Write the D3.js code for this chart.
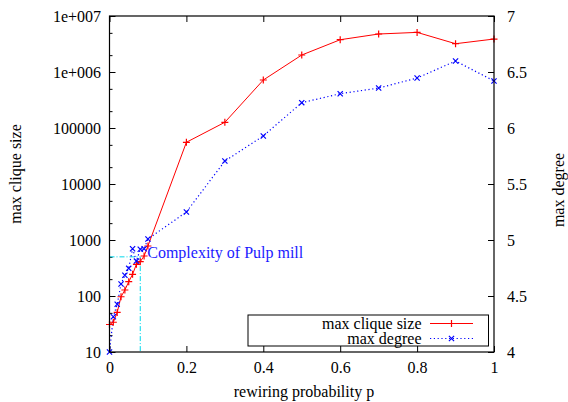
<!DOCTYPE html>
<html>
<head>
<meta charset="utf-8">
<script src="https://cdn.jsdelivr.net/npm/d3@7"></script>
<style>
  body { margin: 0; background: #fff; }
  svg { display: block; }
  svg text { font-family: "Liberation Serif", "DejaVu Serif", serif; }
</style>
</head>
<body>
<div id="main"></div>
<script>
// rewiring probability p
const pValues = [0, 0.01, 0.02, 0.03, 0.04, 0.05, 0.06, 0.07, 0.08, 0.09, 0.1,
                 0.2, 0.3, 0.4, 0.5, 0.6, 0.7, 0.8, 0.9, 1.0];
// max clique size (left, log axis)
const cliqueSize = [31, 34, 51, 97, 128, 180, 244, 368, 410, 518, 781,
                    55600, 126500, 719000, 2010000, 3770000, 4770000, 5100000, 3200000, 3880000];
// max degree (right axis)
const maxDegree = [4.0, 4.315, 4.426, 4.607, 4.685, 4.747, 4.922, 4.812, 4.917, 4.922, 5.009,
                   5.25, 5.705, 5.929, 6.226, 6.306, 6.357, 6.446, 6.598, 6.42];

const xTicks = [0, 0.2, 0.4, 0.6, 0.8, 1];
const leftTicks = [10, 100, 1000, 10000, 100000, 1e6, 1e7];
const leftTickLabels = ["10", "100", "1000", "10000", "100000", "1e+006", "1e+007"];
const rightTicks = [4, 4.5, 5, 5.5, 6, 6.5, 7];
const rightTickLabels = ["4", "4.5", "5", "5.5", "6", "6.5", "7"];
const pulpMill = [0.08, 500]; // p, clique size
const pulpLabel = "Complexity of Pulp mill";
const seriesNames = ["max clique size", "max degree"];

const width = 568, height = 402;
const plotLeft = 109.5, plotRight = 494, plotTop = 16, plotBottom = 352;

const x = d3.scaleLinear().domain([0, 1]).range([plotLeft, plotRight]);
const yL = d3.scaleLog().domain([10, 1e7]).range([plotBottom, plotTop]);
const yR = d3.scaleLinear().domain([4, 7]).range([plotBottom, plotTop]);

const svg = d3.select("#main").append("svg")
    .attr("width", width)
    .attr("height", height)
    .attr("font-family", "Liberation Serif");

const fontSize = 16;
const serif = "Liberation Serif";

// minor log ticks (2x and 5x)
const minor = [];
leftTicks.slice(0, -1).forEach(t => { minor.push(t * 2, t * 5); });
svg.append("g")
    .attr("transform", `translate(${plotLeft},0)`)
    .call(d3.axisLeft(yL).tickValues(minor).tickSize(-3).tickFormat(""))
    .call(g => g.select(".domain").remove());

// axes
svg.append("g")
    .attr("transform", `translate(0,${plotBottom})`)
    .call(d3.axisBottom(x).tickValues(xTicks).tickSize(-6).tickPadding(10)
        .tickFormat(d => d === 0 || d === 1 ? d3.format("d")(d) : d3.format(".1f")(d)))
    .call(g => g.select(".domain").remove());
svg.append("g")
    .attr("transform", `translate(0,${plotTop})`)
    .call(d3.axisTop(x).tickValues(xTicks).tickSize(-6).tickFormat(""))
    .call(g => g.select(".domain").remove());
svg.append("g")
    .attr("transform", `translate(${plotLeft},0)`)
    .call(d3.axisLeft(yL).tickValues(leftTicks).tickSize(-6).tickPadding(8.5)
        .tickFormat((d, i) => leftTickLabels[i]))
    .call(g => g.select(".domain").remove());
svg.append("g")
    .attr("transform", `translate(${plotRight},0)`)
    .call(d3.axisRight(yR).tickValues(rightTicks).tickSize(-6).tickPadding(13)
        .tickFormat((d, i) => rightTickLabels[i]))
    .call(g => g.select(".domain").remove());

svg.selectAll("g").attr("font-family", serif).attr("font-size", fontSize);
svg.selectAll(".tick text")
    .attr("font-family", serif)
    .attr("font-size", fontSize)
    .attr("fill", "#000");
svg.selectAll(".tick line").attr("stroke", "#000");

// pulp mill guide lines
svg.append("path")
    .attr("d", d3.line()([[x(0), yL(pulpMill[1])], [x(pulpMill[0]), yL(pulpMill[1])], [x(pulpMill[0]), yL(10)]]))
    .attr("fill", "none")
    .attr("stroke", "#00d8ec")
    .attr("stroke-width", 1)
    .attr("stroke-dasharray", "5,2,1,2");

// series lines
const redLine = d3.line().x((d, i) => x(pValues[i])).y(d => yL(d));
const blueLine = d3.line().x((d, i) => x(pValues[i])).y(d => yR(d));

svg.append("path")
    .attr("d", redLine(cliqueSize))
    .attr("fill", "none")
    .attr("stroke", "#ff0000")
    .attr("stroke-width", 1);

svg.append("path")
    .attr("d", blueLine(maxDegree))
    .attr("fill", "none")
    .attr("stroke", "#0000ff")
    .attr("stroke-width", 1.2)
    .attr("stroke-dasharray", "1.2,2.6");

const plus = (cx, cy, s) => `M${cx - s},${cy}H${cx + s}M${cx},${cy - s}V${cy + s}`;
const cross = (cx, cy, s) => `M${cx - s},${cy - s}L${cx + s},${cy + s}M${cx - s},${cy + s}L${cx + s},${cy - s}`;

svg.append("g").selectAll("path")
    .data(cliqueSize)
    .enter()
    .append("path")
    .attr("d", (d, i) => plus(x(pValues[i]), yL(d), 3.5))
    .attr("stroke", "#ff0000")
    .attr("stroke-width", 1.2);

svg.append("g").selectAll("path")
    .data(maxDegree)
    .enter()
    .append("path")
    .attr("d", (d, i) => cross(x(pValues[i]), yR(d), 2.6))
    .attr("stroke", "#0000ff")
    .attr("stroke-width", 1.2);

// annotation
svg.append("text")
    .attr("x", x(pulpMill[0]) + 7)
    .attr("y", yL(pulpMill[1]) + 1.5)
    .attr("font-family", serif)
    .attr("font-size", fontSize)
    .attr("fill", "#1a1aff")
    .text(pulpLabel);

// frame
svg.append("rect")
    .attr("x", plotLeft).attr("y", plotTop)
    .attr("width", plotRight - plotLeft).attr("height", plotBottom - plotTop)
    .attr("fill", "none").attr("stroke", "#000").attr("stroke-width", 1.2);

// axis titles
svg.append("text")
    .attr("transform", "translate(21,174) rotate(-90)")
    .attr("text-anchor", "middle")
    .attr("font-family", serif)
    .attr("font-size", fontSize)
    .text("max clique size");
svg.append("text")
    .attr("transform", "translate(564,190) rotate(-90)")
    .attr("text-anchor", "middle")
    .attr("font-family", serif)
    .attr("font-size", fontSize)
    .text("max degree");
svg.append("text")
    .attr("x", 304).attr("y", 397)
    .attr("text-anchor", "middle")
    .attr("font-family", serif)
    .attr("font-size", fontSize)
    .text("rewiring probability p");

// legend
const legend = svg.append("g");
legend.append("rect")
    .attr("x", 248).attr("y", 315)
    .attr("width", 240.5).attr("height", 31)
    .attr("fill", "#fff").attr("stroke", "#000").attr("stroke-width", 1);
const rows = [323.5, 338.5];
seriesNames.forEach((name, i) => {
    legend.append("text")
        .attr("x", 421.5).attr("y", rows[i] + 5)
        .attr("text-anchor", "end")
        .attr("font-family", serif)
        .attr("font-size", fontSize)
        .text(name);
    legend.append("line")
        .attr("x1", 430).attr("x2", 473)
        .attr("y1", rows[i]).attr("y2", rows[i])
        .attr("stroke", i === 0 ? "#ff0000" : "#0000ff")
        .attr("stroke-width", i === 0 ? 1 : 1.2)
        .attr("stroke-dasharray", i === 0 ? null : "1.2,2.6");
    legend.append("path")
        .attr("d", i === 0 ? plus(451.5, rows[i], 3.5) : cross(451.5, rows[i], 2.6))
        .attr("stroke", i === 0 ? "#ff0000" : "#0000ff")
        .attr("stroke-width", 1.2);
});
</script>
</body>
</html>
